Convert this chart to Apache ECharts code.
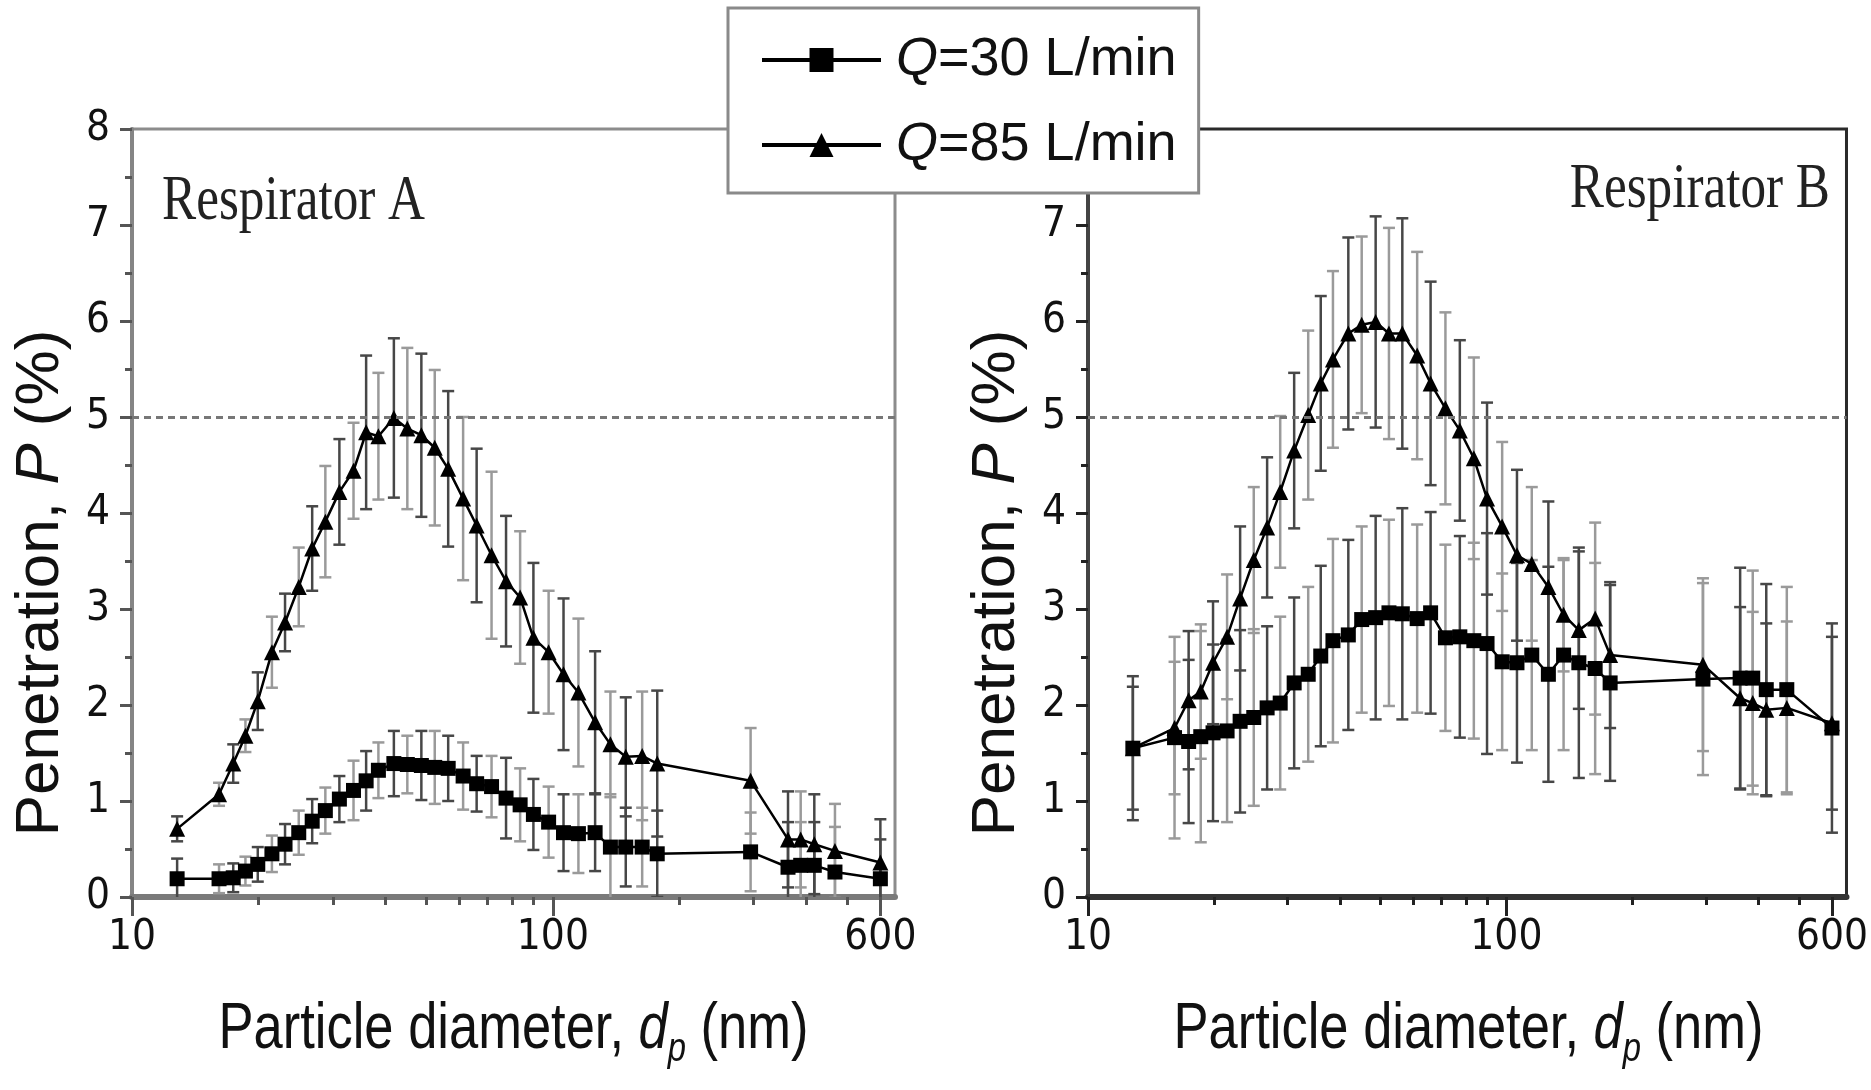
<!DOCTYPE html>
<html><head><meta charset="utf-8">
<script src="https://cdn.jsdelivr.net/npm/echarts@6.0.0/dist/echarts.min.js"></script>
<style>html,body{margin:0;padding:0;background:#fff}#c{width:1871px;height:1090px}</style>
</head><body><div id="c"></div>
<script>
// ---------- data ----------
const diameters = [12.8, 16.1, 17.4, 18.6, 19.9, 21.5, 23.1, 24.9, 26.8, 28.8, 31.1, 33.6, 36.0, 38.5, 41.9, 45.1, 48.7, 52.4, 56.4, 61.2, 65.9, 71.5, 77.4, 83.6, 89.9, 97.7, 106, 115, 126, 137, 149, 163, 177, 295, 362, 388, 418, 468, 600];

const penA30 = [0.19,0.19,0.20,0.27,0.34,0.45,0.55,0.67,0.79,0.90,1.02,1.11,1.21,1.32,1.39,1.38,1.37,1.35,1.34,1.26,1.18,1.15,1.03,0.96,0.86,0.78,0.67,0.66,0.67,0.52,0.52,0.52,0.45,0.47,0.31,0.33,0.33,0.26,0.19];
const errA30 = [0.21,0.15,0.15,0.15,0.18,0.19,0.21,0.23,0.23,0.24,0.24,0.31,0.31,0.29,0.34,0.30,0.36,0.38,0.34,0.35,0.29,0.32,0.42,0.38,0.37,0.37,0.40,0.41,0.40,0.55,0.41,0.41,0.45,0.41,0.47,0.45,0.45,0.47,0.41];
const penA85 = [0.71,1.07,1.39,1.68,2.04,2.55,2.86,3.23,3.63,3.91,4.22,4.44,4.84,4.80,4.99,4.88,4.81,4.68,4.46,4.15,3.87,3.56,3.29,3.12,2.70,2.55,2.32,2.13,1.82,1.59,1.46,1.47,1.39,1.21,0.60,0.60,0.55,0.48,0.36];
const errA85 = [0.13,0.12,0.20,0.17,0.30,0.37,0.30,0.41,0.44,0.58,0.55,0.50,0.80,0.66,0.83,0.84,0.85,0.81,0.81,0.85,0.80,0.87,0.68,0.69,0.78,0.64,0.79,0.77,0.74,0.55,0.62,0.67,0.76,0.55,0.50,0.50,0.52,0.49,0.45];
const penB30 = [1.55,1.66,1.62,1.67,1.71,1.73,1.83,1.87,1.97,2.02,2.23,2.32,2.51,2.67,2.73,2.89,2.91,2.96,2.95,2.90,2.96,2.70,2.71,2.67,2.64,2.45,2.44,2.52,2.32,2.52,2.44,2.38,2.23,2.27,2.28,2.28,2.16,2.16,1.76];
const errB30 = [0.75,1.05,0.85,1.10,0.92,0.95,0.95,0.92,0.85,0.90,0.89,0.91,0.94,1.06,0.99,0.97,1.06,0.97,1.10,0.98,1.05,0.97,1.05,1.02,1.15,0.92,1.04,0.99,1.12,0.99,1.20,1.10,1.02,1.00,1.15,1.12,1.10,1.07,1.09];
const penB85 = [1.55,1.76,2.05,2.14,2.44,2.71,3.11,3.51,3.85,4.22,4.65,5.02,5.35,5.60,5.87,5.96,5.99,5.87,5.87,5.64,5.35,5.09,4.86,4.57,4.15,3.86,3.56,3.47,3.23,2.94,2.78,2.90,2.52,2.42,2.07,2.02,1.95,1.97,1.81];
const errB85 = [0.64,0.69,0.72,0.70,0.64,0.65,0.75,0.76,0.73,0.79,0.81,0.88,0.91,0.92,1.00,0.92,1.10,1.10,1.20,1.08,1.06,1.00,0.94,1.05,1.00,0.88,0.89,0.80,0.89,0.59,0.82,1.00,0.76,0.90,0.95,0.95,0.90,0.90,0.90];

const xLabelValues = [10, 100, 600];
const xMinorValues = [20, 30, 40, 50, 60, 70, 80, 90, 200, 300, 400, 500];
const seriesNames = ['Q=30 L/min', 'Q=85 L/min'];
const panelTitles = ['Respirator A', 'Respirator B'];
const xTitle = 'Particle diameter, {i|d}{s|p} (nm)';
const yTitle = 'Penetration, {i|P} (%)';
const refLevel = 5;

// ---------- helpers ----------
const NARROW = "'Liberation Sans Narrow','DejaVu Sans Condensed','Liberation Sans',Arial,sans-serif";
const SANS = "'Liberation Sans',Arial,sans-serif";
const SERIF = "'Liberation Serif','Times New Roman',serif";

const pts = vals => diameters.map((d, i) => [d, vals[i]]);
const errs = (vals, e) => diameters.map((d, i) => [d, vals[i] - e[i], vals[i] + e[i]]);

function errRender(params, api) {
  const x = api.value(0);
  const p1 = api.coord([x, api.value(2)]);
  const p2 = api.coord([x, api.value(1)]);
  const w = 6;
  const style = { stroke: params.dataIndex % 2 ? '#9a9a9a' : '#474747', lineWidth: 2.5 };
  return { type: 'group', children: [
    { type: 'line', shape: { x1: p1[0], y1: p1[1], x2: p2[0], y2: p2[1] }, style },
    { type: 'line', shape: { x1: p1[0] - w, y1: p1[1], x2: p1[0] + w, y2: p1[1] }, style },
    { type: 'line', shape: { x1: p2[0] - w, y1: p2[1], x2: p2[0] + w, y2: p2[1] }, style }
  ]};
}

const panels = [
  { grid: { left: 132, top: 129, width: 763, height: 768, border: '#8c8c8c', xLine: '#7a7a7a', yLine: '#858585', tick: '#555' },
    s30: penA30, e30: errA30, s85: penA85, e85: errA85 },
  { grid: { left: 1088, top: 129, width: 761, height: 768, border: '#2a2a2a', xLine: '#333', yLine: '#444', tick: '#222' },
    s30: penB30, e30: errB30, s85: penB85, e85: errB85 }
];

const grids = [], xAxes = [], yAxes = [], series = [], titles = [];
panels.forEach((p, g) => {
  const G = p.grid;
  grids.push({ left: G.left, top: G.top, width: G.width, height: G.height, show: true,
    borderColor: G.border, borderWidth: 3, backgroundColor: 'transparent' });
  xAxes.push({
    type: 'log', logBase: 10, min: 10, max: 650, gridIndex: g, position: 'bottom',
    axisLine: { show: true, lineStyle: { color: G.xLine, width: 6 } },
    axisTick: { show: true, customValues: xLabelValues, length: 19, lineStyle: { color: G.tick, width: 3 } },
    axisLabel: { show: true, customValues: xLabelValues, margin: 20, fontSize: 42, fontFamily: NARROW, color: '#111' },
    splitLine: { show: false }, minorTick: { show: false }
  });
  xAxes.push({
    type: 'log', logBase: 10, min: 10, max: 650, gridIndex: g, position: 'bottom',
    axisLine: { show: false },
    axisTick: { show: true, customValues: xMinorValues, length: 8, lineStyle: { color: G.tick, width: 3 } },
    axisLabel: { show: false }, splitLine: { show: false }
  });
  yAxes.push({
    type: 'value', min: 0, max: 8, interval: 1, gridIndex: g,
    axisLine: { show: true, lineStyle: { color: G.yLine, width: 4 } },
    axisTick: { show: true, length: 12, lineStyle: { color: G.tick, width: 3 } },
    minorTick: { show: true, splitNumber: 2, length: 7, lineStyle: { color: G.tick, width: 3 } },
    axisLabel: { margin: 22, fontSize: 42, fontFamily: NARROW, color: '#111' },
    splitLine: { show: false },
    name: yTitle, nameLocation: 'middle', nameGap: 60,
    nameTextStyle: { fontSize: 62, fontFamily: SANS, color: '#111', padding: [0, 140, 0, 0],
      rich: { i: { fontSize: 62, fontFamily: SANS, fontStyle: 'italic', color: '#111' } } }
  });
  titles.push({ type: 'text', x: G.left + G.width / 2, y: 1030, scaleX: 0.82, z: 5,
    style: { text: xTitle, fontSize: 64, fontFamily: SANS, fill: '#111', align: 'center', verticalAlign: 'middle',
      rich: { i: { fontSize: 64, fontFamily: SANS, fontStyle: 'italic', fill: '#111' },
              s: { fontSize: 40, fontFamily: SANS, fontStyle: 'italic', fill: '#111', padding: [40, 0, 0, 0] } } } });
  const xi = g * 2;
  series.push({ type: 'custom', name: 'err30_' + g, xAxisIndex: xi, yAxisIndex: g, renderItem: errRender,
    encode: { x: 0, y: [1, 2] }, data: errs(p.s30, p.e30), clip: true, z: 1, silent: true });
  series.push({ type: 'custom', name: 'err85_' + g, xAxisIndex: xi, yAxisIndex: g, renderItem: errRender,
    encode: { x: 0, y: [1, 2] }, data: errs(p.s85, p.e85), clip: true, z: 1, silent: true });
  series.push({ type: 'line', name: seriesNames[0], xAxisIndex: xi, yAxisIndex: g, data: pts(p.s30),
    symbol: 'rect', symbolSize: 15, showAllSymbol: true, color: '#000',
    lineStyle: { color: '#000', width: 2.5 }, itemStyle: { color: '#000' }, z: 3, animation: false,
    markLine: { silent: true, symbol: 'none', label: { show: false },
      lineStyle: { type: [7, 5], color: '#777', width: 3 }, data: [{ yAxis: refLevel }] } });
  series.push({ type: 'line', name: seriesNames[1], xAxisIndex: xi, yAxisIndex: g, data: pts(p.s85),
    symbol: 'triangle', symbolSize: 16, showAllSymbol: true, color: '#000',
    lineStyle: { color: '#000', width: 2.5 }, itemStyle: { color: '#000' }, z: 3, animation: false });
});

const chart = echarts.init(document.getElementById('c'), null, { renderer: 'canvas' });
chart.setOption({
  backgroundColor: '#fff',
  animation: false,
  grid: grids, xAxis: xAxes, yAxis: yAxes, series: series,
  legend: {
    data: seriesNames, orient: 'vertical', left: 728, top: 8,
    padding: [22, 22, 18, 32], itemWidth: 119, itemHeight: 30, itemGap: 25,
    backgroundColor: '#fff', borderColor: '#8a8a8a', borderWidth: 3, borderRadius: 0,
    selectedMode: false, z: 10,
    lineStyle: { width: 4 },
    formatter: n => n.replace('Q', '{i|Q}'),
    textStyle: { fontSize: 54, fontFamily: SANS, color: '#111', lineHeight: 60,
      rich: { i: { fontSize: 54, fontFamily: SANS, fontStyle: 'italic', color: '#111', padding: [0, 0, 0, 10] } } }
  },
  graphic: titles.concat([
    { type: 'text', x: 162, y: 202, scaleX: 0.8, z: 5,
      style: { text: panelTitles[0], fontSize: 64, fontFamily: SERIF, fill: '#222', align: 'left', verticalAlign: 'middle' } },
    { type: 'text', x: 1830, y: 190, scaleX: 0.8, z: 5,
      style: { text: panelTitles[1], fontSize: 64, fontFamily: SERIF, fill: '#222', align: 'right', verticalAlign: 'middle' } }
  ])
});
</script></body></html>
